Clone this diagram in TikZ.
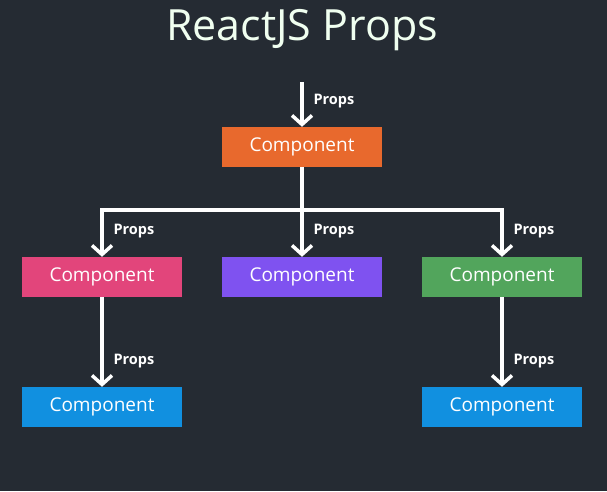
\documentclass[tikz,border=0pt]{standalone}
\usepackage{fontspec}
\setmainfont{Open Sans}
\usetikzlibrary{arrows.meta}
\definecolor{bgdark}{HTML}{252B33}
\definecolor{cOrange}{HTML}{E8692D}
\definecolor{cPink}{HTML}{E2457B}
\definecolor{cPurple}{HTML}{7F52F0}
\definecolor{cGreen}{HTML}{52A55C}
\definecolor{cBlue}{HTML}{1190E0}
\tikzset{
  comp/.style={minimum width=160pt,minimum height=40pt,inner sep=0pt,
    text=white,font=\fontsize{19}{22}\selectfont},
  flow/.style={draw=white,line width=3.5pt},
  propsflow/.style={flow,-{Straight Barb[length=9pt,width=20pt,line width=3.5pt]}},
  props/.style={anchor=west,text=white,font=\fontsize{14.5}{17}\selectfont\bfseries},
}

\begin{document}
\begin{tikzpicture}[x=1pt,y=-1pt]
  \fill[bgdark] (0,0) rectangle (607,491);
  \useasboundingbox (0,0) rectangle (607,491);

  \node[text=white!94!green,font=\fontsize{43}{50}\selectfont] (title) at (302,30) {ReactJS Props};

  % components
  \node[comp,fill=cOrange] (top) at (302,147) {Component};
  \node[comp,fill=cPink] (left) at (102,277) {Component};
  \node[comp,fill=cPurple] (mid) at (302,277) {Component};
  \node[comp,fill=cGreen] (right) at (502,277) {Component};
  \node[comp,fill=cBlue] (leftbot) at (102,407) {Component};
  \node[comp,fill=cBlue] (rightbot) at (502,407) {Component};

  \coordinate (in) at (302,82);
  \coordinate (bar) at (302,210);

  % connectors
  \draw[propsflow] (in) -- (top.north);
  \draw[flow] (top.south) -- (bar);
  \draw[propsflow] (bar) -| (left.north);
  \draw[propsflow] (bar) -- (mid.north);
  \draw[propsflow] (bar) -| (right.north);
  \draw[propsflow] (left.south) -- (leftbot.north);
  \draw[propsflow] (right.south) -- (rightbot.north);

  \node[props] (p0) at (310,101) {Props};
  \node[props] (p1) at (110,231) {Props};
  \node[props] (p2) at (310,231) {Props};
  \node[props] (p3) at (510,231) {Props};
  \node[props] (p4) at (110,361) {Props};
  \node[props] (p5) at (510,361) {Props};
\end{tikzpicture}
\end{document}
